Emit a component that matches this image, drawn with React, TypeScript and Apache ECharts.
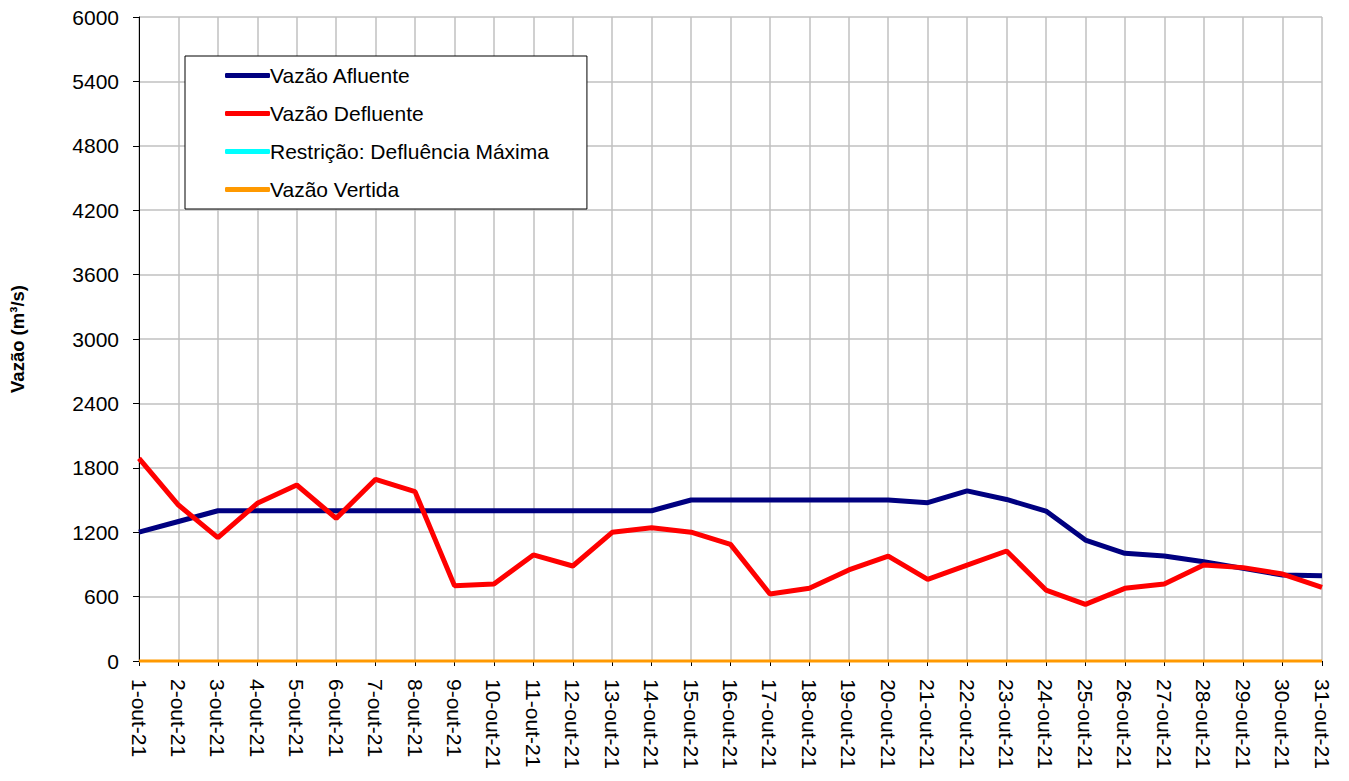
import React, { useEffect, useRef } from "react";
import * as echarts from "echarts";

const categories = Array.from({ length: 31 }, (_, i) => `${i + 1}-out-21`);
const afluente = [1200, 1300, 1400, 1400, 1400, 1400, 1400, 1400, 1400, 1400, 1400, 1400, 1400, 1400, 1500, 1500, 1500, 1500, 1500, 1500, 1475, 1585, 1505, 1397, 1127, 1003, 978, 925, 863, 801, 795];
const defluente = [1888, 1453, 1149, 1469, 1640, 1329, 1693, 1578, 702, 717, 988, 885, 1199, 1242, 1200, 1087, 624, 677, 848, 978, 761, 894, 1025, 661, 528, 677, 717, 894, 870, 810, 687];
const restricao: (number | null)[] = Array.from({ length: 31 }, () => null);
const vertida = [0, 0, 0, 0, 0, 0, 0, 0, 0, 0, 0, 0, 0, 0, 0, 0, 0, 0, 0, 0, 0, 0, 0, 0, 0, 0, 0, 0, 0, 0, 0];
const yTicks = { min: 0, max: 6000, interval: 600 };

export default function App() {
  const ref = useRef<HTMLDivElement>(null);
  useEffect(() => {
    const chart = echarts.init(ref.current!, null, { renderer: "svg" });
    const font = "'Liberation Sans', Arial, sans-serif";
    chart.setOption({
      animation: false,
      backgroundColor: "#fff",
      grid: { left: 139, right: 27, top: 17, bottom: 120, containLabel: false },
      legend: {
        orient: "vertical",
        left: 185,
        top: 56,
        padding: [9, 38, 9, 40],
        itemGap: 17,
        itemWidth: 45,
        itemHeight: 5,
        icon: "roundRect",
        borderColor: "#000",
        borderWidth: 1,
        backgroundColor: "#fff",
        textStyle: { fontFamily: font, fontSize: 21, color: "#000", padding: [0, 0, 0, -5] },
        data: ["Vazão Afluente", "Vazão Defluente", "Restrição: Defluência Máxima", "Vazão Vertida"],
      },
      xAxis: {
        type: "category",
        data: categories,
        boundaryGap: false,
        axisLine: { lineStyle: { color: "#000", width: 1 } },
        axisTick: { show: true, length: 5, lineStyle: { color: "#000" }, alignWithLabel: true },
        axisLabel: { rotate: -90, interval: 0, margin: 18, fontFamily: font, fontSize: 21, color: "#000" },
        splitLine: { show: true, lineStyle: { color: "#c0c0c0", width: 1.5 } },
      },
      yAxis: {
        type: "value",
        min: yTicks.min,
        max: yTicks.max,
        interval: yTicks.interval,
        name: "Vazão (m³/s)",
        nameLocation: "middle",
        nameGap: 112,
        nameTextStyle: { fontFamily: font, fontSize: 18.5, fontWeight: "bold", color: "#000" },
        axisLine: { show: true, lineStyle: { color: "#000", width: 1 } },
        axisTick: { show: true, length: 6, lineStyle: { color: "#000" } },
        axisLabel: { margin: 20, fontFamily: font, fontSize: 21, color: "#000", formatter: (v: number) => String(v) },
        splitLine: { show: true, lineStyle: { color: "#c0c0c0", width: 1.5 } },
      },
      series: [
        {
          name: "Vazão Afluente", type: "line", data: afluente, showSymbol: false, symbol: "none",
          lineStyle: { color: "#000080", width: 5 }, itemStyle: { color: "#000080" }, z: 3,
        },
        {
          name: "Vazão Defluente", type: "line", data: defluente, showSymbol: false, symbol: "none",
          lineStyle: { color: "#ff0000", width: 5 }, itemStyle: { color: "#ff0000" }, z: 4,
        },
        {
          name: "Restrição: Defluência Máxima", type: "line", data: restricao, showSymbol: false, symbol: "none",
          lineStyle: { color: "#00ffff", width: 5 }, itemStyle: { color: "#00ffff" }, z: 3,
        },
        {
          name: "Vazão Vertida", type: "line", data: vertida, showSymbol: false, symbol: "none", clip: false,
          lineStyle: { color: "#ff9900", width: 3 }, itemStyle: { color: "#ff9900" }, z: 5,
        },
      ],
    });
    return () => chart.dispose();
  }, []);
  return <div ref={ref} style={{ position: "fixed", left: 0, top: 0, width: 1349, height: 781 }} />;
}
